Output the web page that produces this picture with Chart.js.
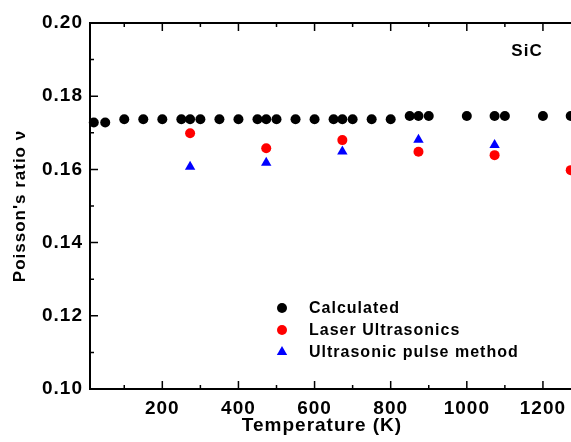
<!DOCTYPE html>
<html>
<head>
<meta charset="utf-8">
<script src="https://cdn.jsdelivr.net/npm/chart.js@4.4.1/dist/chart.umd.min.js"></script>
<style>
  html, body { margin: 0; padding: 0; background: #fff; overflow: hidden; }
  #wrap { width: 600px; height: 442px; }
</style>
</head>
<body>
<div id="wrap"><canvas id="chart"></canvas></div>
<script>
// --- data (temperature in K, Poisson's ratio) ---
const calcTemps = [20, 50, 100, 150, 200, 250, 273, 300, 350, 400, 450, 473, 500, 550, 600,
                   650, 673, 700, 750, 800, 850, 873, 900, 1000, 1073, 1100, 1200, 1273];
const calcNu = [0.1728, 0.1728, 0.1737, 0.1737, 0.1737, 0.1737, 0.1737, 0.1737, 0.1737, 0.1737,
                0.1737, 0.1737, 0.1737, 0.1737, 0.1737, 0.1737, 0.1737, 0.1737, 0.1737, 0.1737,
                0.1746, 0.1746, 0.1746, 0.1746, 0.1746, 0.1746, 0.1746, 0.1746];

const laserTemps = [273, 473, 673, 873, 1073, 1273];
const laserNu = [0.1699, 0.1658, 0.1680, 0.1648, 0.1639, 0.1598];

const pulseTemps = [273, 473, 673, 873, 1073];
const pulseNu = [0.1607, 0.1618, 0.1649, 0.1681, 0.1667];

const xMajor = [200, 400, 600, 800, 1000, 1200];
const xMinor = [100, 300, 500, 700, 900, 1100, 1300];
const yMajor = [0.10, 0.12, 0.14, 0.16, 0.18, 0.20];
const yMinor = [0.11, 0.13, 0.15, 0.17, 0.19];

const FONT = "'Liberation Sans', Arial, sans-serif";
Chart.defaults.font.family = FONT;
Chart.defaults.font.weight = "bold";
Chart.defaults.color = "#000";

const toPoints = (xs, ys) => xs.map((x, i) => ({ x, y: ys[i] }));

// ticks pointing inward, top frame line, texts inside the plot
const frameTicks = {
  id: "frameTicks",
  beforeDraw(chart) {
    chart.ctx.letterSpacing = "1px";
  },
  afterDraw(chart) {
    const { ctx, chartArea: a, scales } = chart;
    const xs = scales.x, ys = scales.y;
    ctx.save();
    ctx.strokeStyle = "#000";
    ctx.lineWidth = 2;
    ctx.beginPath();
    ctx.moveTo(a.left - 1, a.top);
    ctx.lineTo(a.right, a.top);
    ctx.stroke();
    ctx.lineWidth = 1.5;
    const vtick = (vals, len) => vals.forEach((v) => {
      const px = xs.getPixelForValue(v);
      ctx.beginPath();
      ctx.moveTo(px, a.bottom); ctx.lineTo(px, a.bottom - len);
      ctx.moveTo(px, a.top); ctx.lineTo(px, a.top + len);
      ctx.stroke();
    });
    const htick = (vals, len) => vals.forEach((v) => {
      const py = ys.getPixelForValue(v);
      ctx.beginPath();
      ctx.moveTo(a.left, py); ctx.lineTo(a.left + len, py);
      ctx.moveTo(a.right, py); ctx.lineTo(a.right - len, py);
      ctx.stroke();
    });
    vtick(xMajor, 8); vtick(xMinor, 4);
    htick(yMajor, 8); htick(yMinor, 4);

    ctx.fillStyle = "#000";
    ctx.textBaseline = "middle";
    ctx.textAlign = "center";

    // x axis title (sits left of the scale centre in the original)
    ctx.font = "bold 19px " + FONT;
    ctx.fillText("Temperature (K)", 322, 426);

    // sample label
    ctx.font = "bold 17px " + FONT;
    ctx.fillText("SiC", 527, 51);

    // legend
    const lx = 282, tx = 309, rows = [308, 330, 352];
    ctx.font = "bold 16px " + FONT;
    ctx.textAlign = "left";
    chart.data.datasets.forEach((ds, i) => {
      ctx.fillStyle = ds.backgroundColor;
      ctx.strokeStyle = ds.backgroundColor;
      Chart.helpers.drawPoint(ctx, {
        pointStyle: ds.pointStyle, radius: ds.pointRadius, rotation: 0, borderWidth: 0
      }, lx, rows[i]);
      ctx.fillStyle = "#000";
      ctx.fillText(ds.label, tx, rows[i] + 1);
    });
    ctx.restore();
  }
};

new Chart(document.getElementById("chart"), {
  type: "scatter",
  data: {
    datasets: [
      {
        label: "Calculated",
        data: toPoints(calcTemps, calcNu),
        backgroundColor: "#000000",
        borderColor: "#000000",
        borderWidth: 0,
        pointStyle: "circle",
        pointRadius: 5,
        clip: false,
      },
      {
        label: "Laser Ultrasonics",
        data: toPoints(laserTemps, laserNu),
        backgroundColor: "#ff0000",
        borderColor: "#ff0000",
        borderWidth: 0,
        pointStyle: "circle",
        pointRadius: 5,
        clip: false,
      },
      {
        label: "Ultrasonic pulse method",
        data: toPoints(pulseTemps, pulseNu),
        backgroundColor: "#0000ff",
        borderColor: "#0000ff",
        borderWidth: 0,
        pointStyle: "triangle",
        pointRadius: 6,
        clip: false,
      },
    ],
  },
  options: {
    responsive: true,
    maintainAspectRatio: false,
    animation: false,
    layout: { padding: { top: 23, right: 19, left: 0, bottom: 0 } },
    plugins: { legend: { display: false }, tooltip: { enabled: false } },
    scales: {
      x: {
        type: "linear",
        min: 10,
        max: 1300,
        afterBuildTicks: (s) => { s.ticks = xMajor.map((v) => ({ value: v })); },
        afterFit: (s) => { s.height = 53; },
        grid: { display: false, drawTicks: false },
        border: { display: true, color: "#000", width: 2 },
        ticks: {
          padding: 8,
          font: { size: 19, weight: "bold" },
          maxRotation: 0,
          color: "#000",
          callback: (v) => String(v),
        },
        title: { display: false },
      },
      y: {
        type: "linear",
        min: 0.10,
        max: 0.20,
        afterBuildTicks: (s) => { s.ticks = yMajor.map((v) => ({ value: v })); },
        afterFit: (s) => { s.width = 90; },
        grid: { display: false, drawTicks: false },
        border: { display: true, color: "#000", width: 2 },
        ticks: {
          padding: 7,
          font: { size: 19, weight: "bold" },
          color: "#000",
          callback: (v) => v.toFixed(2),
        },
        title: {
          display: true,
          text: "Poisson's ratio \u03bd",
          font: { size: 17, weight: "bold", lineHeight: 1.2 },
          padding: { top: 10, bottom: 0 },
          color: "#000",
        },
      },
    },
  },
  plugins: [frameTicks],
});
</script>
</body>
</html>
